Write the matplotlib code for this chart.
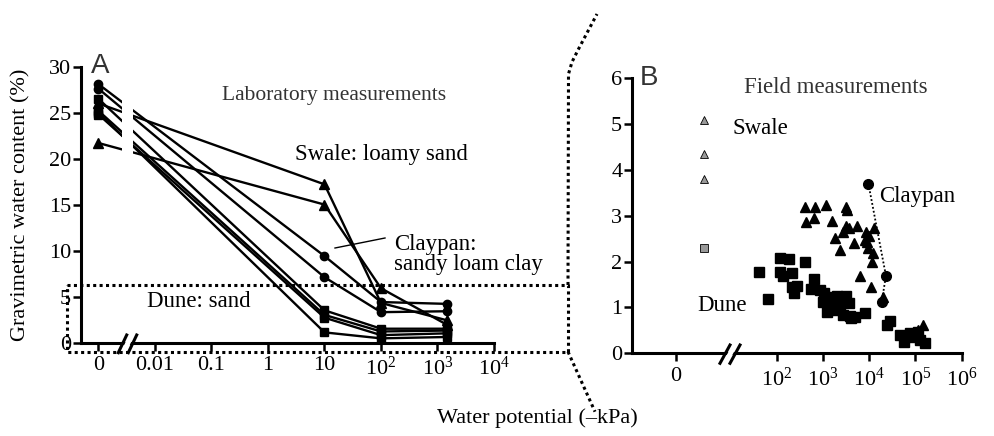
import numpy as np
import matplotlib
matplotlib.use('Agg')
import matplotlib.pyplot as plt
from matplotlib.lines import Line2D
from matplotlib.patches import Polygon
from matplotlib.transforms import Affine2D, ScaledTranslation

plt.rcParams['font.family'] = ['Liberation Serif', 'DejaVu Serif']
plt.rcParams['mathtext.fontset'] = 'custom'
plt.rcParams['mathtext.rm'] = 'Liberation Serif'
plt.rcParams['mathtext.it'] = 'Liberation Serif:italic'

# ---- panel A: laboratory curves (water potential in -kPa, water content in %)
lab_x = [0, 10, 100, 1500]
swale_lab = [[26.0, 17.2, 4.3, 2.4],
             [21.7, 15.0, 5.9, 1.9]]
claypan_lab = [[28.1, 9.4, 4.4, 4.2],
               [27.6, 7.1, 3.3, 3.4]]
dune_lab = [[26.5, 3.5, 1.5, 1.5],
            [25.2, 3.0, 1.2, 1.3],
            [24.8, 2.7, 0.8, 1.0],
            [25.0, 1.1, 0.45, 0.6]]
lab_ticks = [0, 0.01, 0.1, 1, 10, 100, 1000, 10000]
lab_ticklabels = ['0', '0.01', '0.1', '1', '10', '$10^2$', '$10^3$', '$10^4$']

# ---- panel B: field measurements
swale_x = [410, 680, 1150, 3200, 430, 650, 1550, 3200, 3600, 2750, 5500, 1800, 4600,
           8500, 8100, 8900, 12900, 9300, 12000, 11500, 2300, 6200, 10700, 19500,
           145000, 112000, 3250, 10000]
swale_y = [3.19, 3.18, 3.23, 3.19, 2.87, 2.94, 2.89, 2.77, 2.74, 2.65, 2.77, 2.51, 2.41,
           2.65, 2.48, 2.43, 2.74, 2.29, 2.19, 2.00, 2.25, 1.68, 1.45, 1.22,
           0.62, 0.50, 3.12, 2.55]
dune_x = [115, 186, 407, 42, 117, 138, 209, 646, 209, 269, 229, 550, 871, 1023, 1000,
          1549, 1995, 3162, 1820, 2344, 1202, 1995, 2754, 3890, 4898, 8128, 63,
          28200, 24000, 46800, 55000, 77600, 100000, 125900, 162000, 114800,
          1400, 2500, 3550, 4000, 60000]
dune_y = [2.07, 2.05, 2.00, 1.78, 1.78, 1.68, 1.74, 1.63, 1.45, 1.47, 1.31, 1.40, 1.38,
          1.31, 1.12, 1.23, 1.25, 1.25, 1.10, 1.05, 0.91, 0.94, 0.83, 0.81, 0.80,
          0.88, 1.18, 0.71, 0.62, 0.40, 0.25, 0.44, 0.36, 0.29, 0.22, 0.47,
          1.05, 1.15, 1.10, 0.78, 0.35]
claypan_x = [9550, 22900, 18600]
claypan_y = [3.70, 1.69, 1.12]
swale_zero_y = [5.08, 4.34, 3.80]
dune_zero_y = [2.29]
field_ticks = [0, 100, 1000, 10000, 100000, 1000000]
field_ticklabels = ['0', '$10^2$', '$10^3$', '$10^4$', '$10^5$', '$10^6$']


def make_scale(zero_pos):
    def fwd(v):
        v = np.asarray(v, dtype=float)
        return np.where(v > 0, np.log10(np.where(v > 0, v, 1.0)), zero_pos)

    def inv(p):
        return 10.0 ** np.asarray(p, dtype=float)
    return fwd, inv


W, H = 995, 436
fig = plt.figure(figsize=(W / 100, H / 100), dpi=100)
px = Affine2D().scale(1 / W, -1 / H).translate(0, 1) + fig.transFigure


def ax_at(l, t, r, b):
    return fig.add_axes([l / W, 1 - b / H, (r - l) / W, (b - t) / H])


def style(ax):
    for s in ['top', 'right']:
        ax.spines[s].set_visible(False)
    for s in ['left', 'bottom']:
        ax.spines[s].set_linewidth(2.2)
    ax.tick_params(direction='out', length=6, width=1.8, labelsize=16, pad=1)
    ax.tick_params(axis='x', pad=4)
    ax.patch.set_alpha(0)


# ---------------- panel A
axA = ax_at(80.7, 66.7, 494, 342.5)
axA.set_xscale('function', functions=make_scale(-3.0))
axA.set_xticks(lab_ticks)
axA.set_xticklabels(lab_ticklabels)
axA.set_yticks(range(0, 31, 5))
axA.set_xlim(10 ** -3.315, 1e4)
axA.set_ylim(0, 30)
style(axA)

for ys in swale_lab:
    axA.plot(lab_x, ys, color='k', lw=1.7, marker='^', ms=6.5, clip_on=False, zorder=2)
for ys in claypan_lab:
    axA.plot(lab_x, ys, color='k', lw=1.7, marker='o', ms=6, clip_on=False, zorder=2)
for ys in dune_lab:
    axA.plot(lab_x, ys, color='k', lw=1.7, marker='s', ms=6.3, clip_on=False, zorder=2)
# white gap marking the axis break
axA.axvspan(10 ** -2.58, 10 ** -2.39, ymin=0.6, ymax=0.97, color='white', lw=0, zorder=3)

# ---------------- panel B
axB = ax_at(632, 78, 961.7, 353.3)
axB.set_xscale('function', functions=make_scale(-0.18))
axB.set_xticks(field_ticks)
axB.set_xticklabels(field_ticklabels)
axB.set_yticks(range(0, 7))
axB.set_xlim(10 ** -1.136, 1e6)
axB.set_ylim(0, 6)
style(axB)

axB.plot(swale_x, swale_y, ls='none', marker='^', ms=7, color='k', clip_on=False)
axB.plot(dune_x, dune_y, ls='none', marker='s', ms=7, color='k', clip_on=False)
axB.plot(claypan_x, claypan_y, color='k', ls=(0, (1, 1.2)), lw=1.3, marker='o', ms=7,
         clip_on=False)
shift = axB.transData + ScaledTranslation(0.283, 0, fig.dpi_scale_trans)
axB.plot([0] * len(swale_zero_y), swale_zero_y, ls='none', marker='^', ms=5.5,
         mfc='#999999', mec='k', mew=0.6, transform=shift, clip_on=False)
axB.plot([0] * len(dune_zero_y), dune_zero_y, ls='none', marker='s', ms=5.5,
         mfc='#999999', mec='k', mew=0.6, transform=shift, clip_on=False)


# ---------------- axis breaks, dotted frame, connectors
def line(pts, **kw):
    xs, ys = zip(*pts)
    fig.add_artist(Line2D(xs, ys, transform=px, **kw))


for (x0, y0, x1, y1) in [(118.3, 352.7, 126.7, 335), (720, 363.3, 730, 345)]:
    fig.add_artist(Polygon([(x0 + 2.2, y0), (x1 + 2.2, y1), (x1 + 7.8, y1), (x0 + 7.8, y0)],
                           closed=True, fc='white', ec='none', transform=px))
    line([(x0, y0), (x1, y1)], color='k', lw=2.2)
    line([(x0 + 10, y0), (x1 + 10, y1)], color='k', lw=2.2)

dot = dict(color='k', lw=2.2, ls=(0, (1, 1.1)), solid_capstyle='butt', dash_capstyle='butt')
line([(67, 285), (568, 285), (568, 351.7), (67, 351.7), (67, 285)], **dot)
line([(568, 285), (568.5, 74), (572, 62), (578, 50), (597, 14)], **dot)
line([(568, 351.7), (595, 411.7)], **dot)

# ---------------- text
fig.text(21, 205, 'Gravimetric water content (%)', rotation=90, ha='center', va='center',
         fontsize=16, transform=px)
fig.text(537, 418, 'Water potential (\u2013kPa)', ha='center', va='center', fontsize=16,
         transform=px)
fig.text(91, 73, 'A', fontsize=20, family='Liberation Sans', color='#333333', transform=px)
fig.text(640, 85, 'B', fontsize=20, family='Liberation Sans', color='#333333', transform=px)
fig.text(222, 100, 'Laboratory measurements', fontsize=15.5, color='#333333', transform=px)
fig.text(744, 93, 'Field measurements', fontsize=16.5, color='#333333', transform=px)
fig.text(295, 160, 'Swale: loamy sand', fontsize=16.5, transform=px)
fig.text(394, 250, 'Claypan:', fontsize=16.5, transform=px)
fig.text(394, 270, 'sandy loam clay', fontsize=16.5, transform=px)
line([(335, 248), (385, 238)], color='k', lw=1.0)
fig.text(147, 307, 'Dune: sand', fontsize=16.5, transform=px)
fig.text(732, 134, 'Swale', fontsize=16.5, transform=px)
fig.text(879, 202, 'Claypan', fontsize=16.5, transform=px)
fig.text(697, 311, 'Dune', fontsize=16.5, transform=px)

fig.savefig('out.png', dpi=100)
